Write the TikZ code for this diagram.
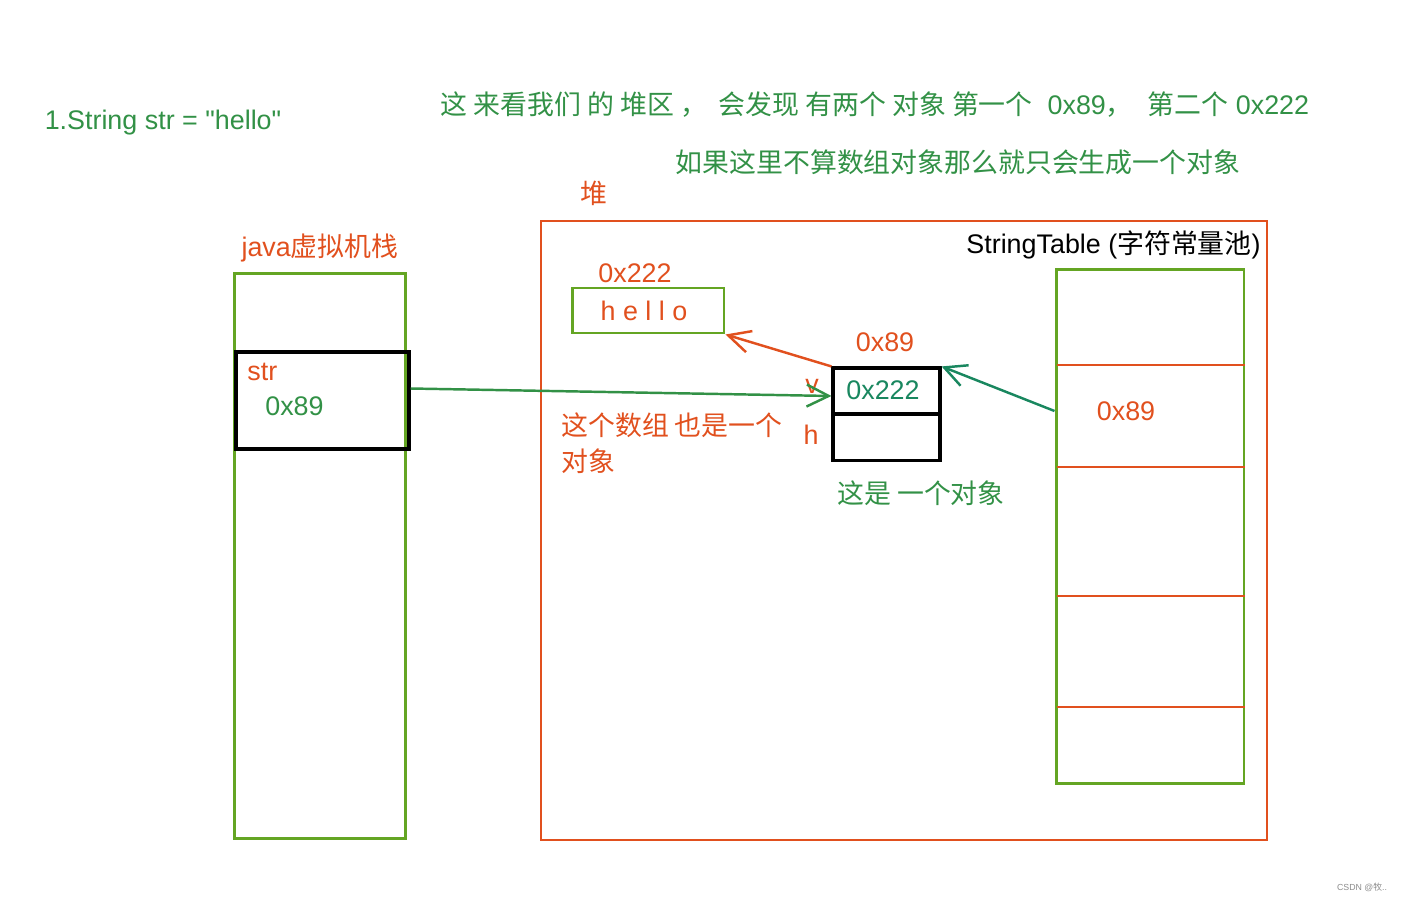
\documentclass[tikz,border=0pt]{standalone}
\usepackage{fontspec}
\setmainfont{Liberation Sans}[Ligatures=TeXOff]
\newfontfamily\cjk{Noto Sans CJK SC}
\usetikzlibrary{arrows.meta}
\definecolor{notegreen}{RGB}{50,145,70}
\definecolor{boxgreen}{RGB}{100,165,35}
\definecolor{heaporange}{RGB}{225,80,30}
\definecolor{refteal}{RGB}{25,135,95}

\begin{document}
\begin{tikzpicture}[x=0.02cm, y=-0.02cm,
  font=\fontsize{15.3pt}{20.4pt}\selectfont,
  every node/.style={inner sep=0pt},
  greenbox/.style={draw=boxgreen, line width=1.7pt},
  blackbox/.style={draw=black, line width=1.8pt},
  rowline/.style={draw=heaporange, line width=1.6pt},
  ptr/.style={line width=1.4pt, -{Straight Barb[length=0.44cm,width=0.44cm]}}]
\useasboundingbox (0,0) rectangle (1405,902);

% notes at the top
\node[text=notegreen] (title) at (163,123) {1.String str = "hello"};
\node[text=notegreen] (note1) at (875,105) {{\cjk 这 来看我们 的 堆区 ，\ \ 会发现 有两个 对象 第一个}\ \ 0x89{\cjk ，}\ \ {\cjk 第二个} 0x222};
\node[text=notegreen] (note2) at (958,162) {\cjk 如果这里不算数组对象那么就只会生成一个对象};

% java stack
\node[greenbox, minimum width=3.44cm, minimum height=11.32cm] (stack) at (320,556) {};
\node[text=heaporange] (stacklbl) at (320,248) {java{\cjk 虚拟机栈}};
\node[blackbox, minimum width=3.46cm, minimum height=1.94cm] (strbox) at (322.5,400.5) {};
\node[text=heaporange, anchor=west] (strname) at (247,372) {str};
\node[text=notegreen, anchor=west] (strval) at (265,406) {0x89};

% heap
\node[draw=heaporange, line width=1.6pt, minimum width=14.52cm, minimum height=12.38cm] (heap) at (904,530.5) {};
\node[text=heaporange] (heaplbl) at (594,193) {\cjk 堆};

% char array hello
\node[greenbox, minimum width=3.04cm, minimum height=0.9cm] (hello) at (648,310.5) {};
\node[text=heaporange] (hellotxt) at (644,311) {h e l l o};
\node[text=heaporange] (helloaddr) at (635,273) {0x222};
\node[text=heaporange, anchor=west, align=left] (arrnote) at (561,443) {\cjk 这个数组 也是一个\\\cjk 对象};

% String object
\node[blackbox, minimum width=2.14cm, minimum height=0.92cm] (val) at (886.5,391) {};
\node[text=refteal] (valtxt) at (883,390) {0x222};
\node[blackbox, minimum width=2.14cm, minimum height=0.92cm] (hash) at (886.5,437.5) {};
\node[text=heaporange] (objaddr) at (885,342) {0x89};
\node[text=heaporange] (vlbl) at (812,386) {v};
\node[text=heaporange] (hlbl) at (811,435) {h};
\node[text=notegreen] (objnote) at (921,493) {\cjk 这是 一个对象};

% StringTable
\node[anchor=east] (tablelbl) at (1261,245) {StringTable ({\cjk 字符常量池})};
\node[greenbox, minimum width=3.76cm, minimum height=10.3cm] (table) at (1150,526.5) {};
\foreach \y in {365,467,596,707}
  \draw[rowline] (table.west |- 0,\y) ++(2,0) -- (table.east |- 0,\y);
\node[text=heaporange] (slot) at (1126,411) {0x89};

% pointers
\draw[ptr, draw=notegreen] ([yshift=0.24cm]strbox.east) -- ([yshift=-0.1cm]val.west);
\draw[ptr, draw=heaporange] (val.north west) -- (hello.south east);
\draw[ptr, draw=refteal] (table.west |- slot) -- (val.north east);

\node[text=black!45, font=\fontsize{5pt}{6pt}\selectfont] (csdn) at (1362,887) {CSDN @{\cjk 牧}..};
\end{tikzpicture}
\end{document}
